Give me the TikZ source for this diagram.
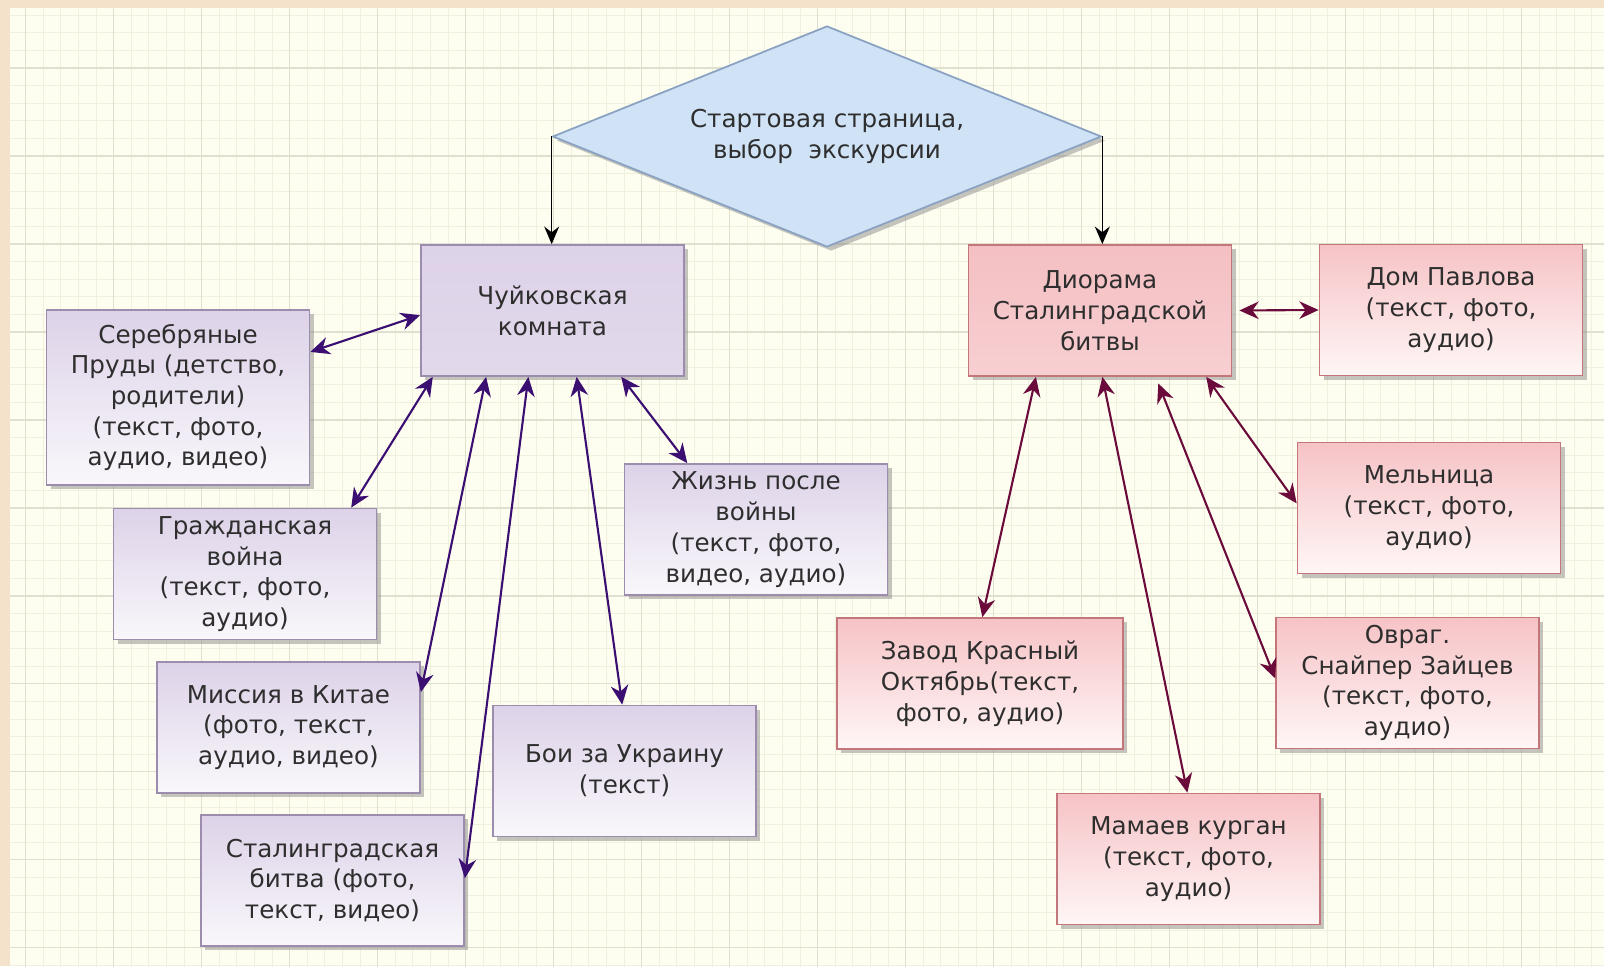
\documentclass[tikz,border=0pt]{standalone}
\usepackage{fontspec}
\setmainfont{DejaVu Sans}
\usetikzlibrary{arrows.meta,shapes.geometric,shadows}

\definecolor{frameback}{HTML}{F5E2CB}
\definecolor{paper}{HTML}{FEFEF0}
\definecolor{gridmajor}{HTML}{E0E0D0}
\definecolor{gridminor}{HTML}{F0F0DF}
\definecolor{lilactop}{HTML}{DDD2E8}
\definecolor{lilacbot}{HTML}{F9F7FB}
\definecolor{lilacedge}{HTML}{9C8DAE}
\definecolor{rosetop}{HTML}{F6C3C6}
\definecolor{rosebot}{HTML}{FFF6F6}
\definecolor{roseedge}{HTML}{C4777B}
\definecolor{rhombfill}{HTML}{CFE2F6}
\definecolor{rhombedge}{HTML}{8AA2C2}
\definecolor{violetline}{HTML}{3B0E72}
\definecolor{wineline}{HTML}{6B0B3B}
\definecolor{ink}{HTML}{2E2E2E}

\tikzset{
  card/.style={rectangle, draw, line width=1pt, align=center, text=ink,
    font=\fontsize{14}{17.5}\selectfont, inner sep=0pt,
    minimum width=5.26cm, minimum height=2.62cm,
    drop shadow={shadow xshift=2.3pt, shadow yshift=-2.3pt, fill=black!45}},
  lilaccard/.style={card, draw=lilacedge, top color=lilactop, bottom color=lilacbot},
  rosecard/.style={card, draw=roseedge, top color=rosetop, bottom color=rosebot},
  rhomb/.style={diamond, aspect=2.5, draw=rhombedge, line width=1pt, fill=rhombfill,
    align=center, text=ink, font=\fontsize{14}{17.5}\selectfont, inner sep=0pt,
    minimum width=10.98cm, minimum height=4.42cm,
    drop shadow={shadow xshift=2.3pt, shadow yshift=-2.3pt, fill=black!45}},
  downline/.style={draw=black, line width=0.8pt, >={Stealth[length=10pt,width=8.5pt]}, ->},
  lilacline/.style={draw=violetline, line width=1.2pt, >={Stealth[length=11pt,width=10pt]}, <->},
  roseline/.style={draw=wineline, line width=1.2pt, >={Stealth[length=11pt,width=10pt]}, <->}
}

\begin{document}
\begin{tikzpicture}[x=0.02cm, y=0.02cm]
	%%%%% paper %%%%%
	\useasboundingbox (0,0) rectangle (1604,-966);
	\fill[frameback] (0,0) rectangle (1604,-966);
	\fill[paper] (10,-8) rectangle (1604,-966);
	\begin{scope}
		\clip (10,-8) rectangle (1604,-966);
		\begin{scope}[shift={(25.7,-68)}]
			\draw[gridminor, line width=0.5pt, step=0.352cm] (-30,-910) grid (1590,70);
			\draw[gridmajor, line width=0.7pt, step=1.76cm] (-30,-910) grid (1590,70);
		\end{scope}
	\end{scope}
	
	%%%%% boxes %%%%%
	\node[rhomb] (start) at (827,-136.5) {Стартовая страница,\\выбор~~экскурсии};
	
	\node[lilaccard, top color=lilactop, bottom color=lilactop!85!white] (chuikov) at (552.5,-310.5) {Чуйковская\\комната};
	\node[lilaccard, minimum height=3.5cm] (serebr) at (178,-397.5) {Серебряные\\Пруды (детство,\\родители)\\(текст, фото,\\аудио, видео)};
	\node[lilaccard] (grazhd) at (245,-574) {Гражданская\\война\\(текст, фото,\\аудио)};
	\node[lilaccard] (missia) at (288.5,-727.5) {Миссия в Китае\\(фото, текст,\\аудио, видео)};
	\node[lilaccard] (stalbit) at (332.5,-880.5) {Сталинградская\\битва (фото,\\текст, видео)};
	\node[lilaccard] (ukraina) at (624.5,-771) {Бои за Украину\\(текст)};
	\node[lilaccard] (zhizn) at (756,-529.5) {Жизнь после\\войны\\(текст, фото,\\видео, аудио)};
	
	\node[rosecard, top color=rosetop!95!roseedge, bottom color=rosetop!80!white] (diorama) at (1100,-310.5) {Диорама\\Сталинградской\\битвы};
	\node[rosecard] (pavlov) at (1451,-310) {Дом Павлова\\(текст, фото,\\аудио)};
	\node[rosecard] (melnica) at (1429,-508) {Мельница\\(текст, фото,\\аудио)};
	\node[rosecard, minimum width=5.72cm] (zavod) at (980,-683.5) {Завод Красный\\Октябрь(текст,\\фото, аудио)};
	\node[rosecard] (ovrag) at (1407.5,-683) {Овраг.\\Снайпер Зайцев\\(текст, фото,\\аудио)};
	\node[rosecard] (mamaev) at (1188.5,-859) {Мамаев курган\\(текст, фото,\\аудио)};
	
	%%%%% links %%%%%
	\draw[downline] (start.west) -- (start.west |- chuikov.north);
	\draw[downline] (start.east) -- (start.east |- diorama.north);
	
	\draw[lilacline] (chuikov.182) -- (serebr.19);
	\draw[lilacline] (chuikov.209) -- (grazhd.32);
	\draw[lilacline] (chuikov.225) -- (missia.15);
	\draw[lilacline] (chuikov.250) -- (stalbit.1);
	\draw[lilacline] (chuikov.290) -- (ukraina.92);
	\draw[lilacline] (chuikov.316) -- (zhizn.136);
	
	\draw[roseline, shorten <=4pt] (diorama.east) -- (pavlov.west);
	\draw[roseline] (diorama.226) -- (zavod.88);
	\draw[roseline] (diorama.272) -- (mamaev.91);
	\draw[roseline, shorten <=4pt] (diorama.310) -- (ovrag.178);
	\draw[roseline] (diorama.328) -- (melnica.178);
\end{tikzpicture}
\end{document}
